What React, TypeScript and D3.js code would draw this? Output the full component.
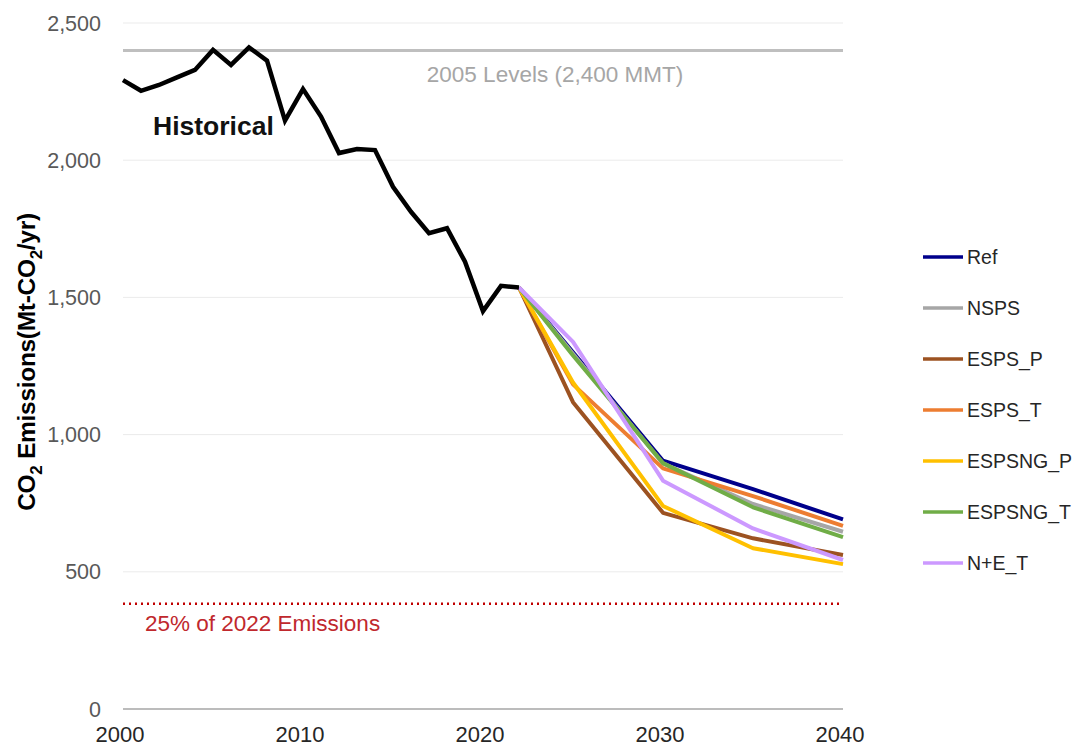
import React from "react";
import * as d3 from "d3";

// historical emissions (Mt-CO2/yr)
const histYears = [2000, 2001, 2002, 2003, 2004, 2005, 2006, 2007, 2008, 2009, 2010, 2011, 2012, 2013, 2014, 2015, 2016, 2017, 2018, 2019, 2020, 2021, 2022];
const historical = [2292, 2253, 2274, 2302, 2329, 2402, 2347, 2411, 2363, 2144, 2259, 2159, 2026, 2041, 2037, 1903, 1812, 1734, 1752, 1630, 1450, 1542, 1536];

// scenario projections
const projYears = [2022, 2025, 2030, 2035, 2040];
const scenarioNames = ["Ref", "NSPS", "ESPS_P", "ESPS_T", "ESPSNG_P", "ESPSNG_T", "N+E_T"];
const scenarioColors = ["#00008B", "#A6A6A6", "#9C5221", "#ED7D31", "#FFC000", "#70AD47", "#CC99FF"];
const ref = [1536, 1300, 905, 801, 691];
const nsps = [1536, 1295, 895, 747, 646];
const espsP = [1536, 1118, 715, 622, 561];
const espsT = [1536, 1183, 877, 776, 667];
const espsngP = [1536, 1190, 740, 586, 528];
const espsngT = [1536, 1288, 896, 735, 626];
const neT = [1536, 1338, 832, 658, 543];

const level2005 = 2400;
const target = 384; // 25% of 2022

const yTicks = [0, 500, 1000, 1500, 2000, 2500];
const xTicks = [2000, 2010, 2020, 2030, 2040];

const font = "'Liberation Sans', Arial, sans-serif";

export default function App() {
  const width = 1073;
  const height = 748;

  const x = d3.scaleLinear().domain([2000, 2040]).range([123, 843]);
  const y = d3.scaleLinear().domain([0, 2500]).range([709, 23]);

  const line = d3
    .line<[number, number]>()
    .x((d) => x(d[0]))
    .y((d) => y(d[1]));

  const scenarios = [ref, nsps, espsP, espsT, espsngP, espsngT, neT];

  return (
    <svg
      width={width}
      height={height}
      style={{ position: "absolute", left: 0, top: 0, background: "#fff" }}
      fontFamily={font}
    >
      {/* gridlines */}
      {yTicks.filter((t) => t > 0).map((t) => (
        <line key={"g" + t} x1={x(2000)} x2={x(2040)} y1={y(t)} y2={y(t)} stroke="#EBEBEB" strokeWidth={1} />
      ))}
      <line x1={x(2000)} x2={x(2040)} y1={y(0)} y2={y(0)} stroke="#A6A6A6" strokeWidth={1.5} />

      {/* y tick labels */}
      {yTicks.map((t) => (
        <text key={"y" + t} x={101} y={y(t) + 7.5} textAnchor="end" fontSize={21.5} fill="#595959">
          {d3.format(",")(t)}
        </text>
      ))}

      {/* x tick labels */}
      {xTicks.map((t) => (
        <text key={"x" + t} x={x(t) - 3} y={742} textAnchor="middle" fontSize={22} fill="#262626">
          {t}
        </text>
      ))}

      {/* y axis title */}
      <text
        transform={`translate(35, ${362}) rotate(-90)`}
        textAnchor="middle"
        fontSize={24.5}
        fontWeight="bold"
        fill="#000"
        letterSpacing={-0.3}
      >
        CO<tspan dy={7} fontSize={17}>2</tspan>
        <tspan dy={-7}> Emissions(Mt-CO</tspan>
        <tspan dy={7} fontSize={17}>2</tspan>
        <tspan dy={-7}>/yr)</tspan>
      </text>

      {/* 2005 level */}
      <line x1={x(2000)} x2={x(2040)} y1={y(level2005)} y2={y(level2005)} stroke="#BFBFBF" strokeWidth={3} />
      <text x={555} y={82} textAnchor="middle" fontSize={22.5} fill="#A6A6A6">
        2005 Levels (2,400 MMT)
      </text>

      {/* 25% target */}
      <line
        x1={x(2000)}
        x2={x(2040)}
        y1={y(target)}
        y2={y(target)}
        stroke="#C00000"
        strokeWidth={2.5}
        strokeDasharray="2 4"
      />
      <text x={145} y={631} fontSize={22.5} fill="#C0282D">
        25% of 2022 Emissions
      </text>

      {/* scenarios */}
      {scenarios.map((s, i) => (
        <path
          key={scenarioNames[i]}
          d={line(projYears.map((yr, j) => [yr, s[j]]))}
          fill="none"
          stroke={scenarioColors[i]}
          strokeWidth={4}
          strokeLinejoin="round"
        />
      ))}

      {/* historical */}
      <path
        d={line(histYears.map((yr, j) => [yr, historical[j]]))}
        fill="none"
        stroke="#000"
        strokeWidth={4.5}
        strokeLinejoin="miter"
      />
      <text x={153} y={135} fontSize={26.5} fontWeight="bold" fill="#111">
        Historical
      </text>

      {/* legend */}
      {scenarioNames.map((n, i) => (
        <g key={"l" + n} transform={`translate(923, ${257 + i * 51})`}>
          <line x1={0} x2={40} y1={0} y2={0} stroke={scenarioColors[i]} strokeWidth={3.5} />
          <text x={44} y={7} fontSize={19.5} fill="#262626">
            {n}
          </text>
        </g>
      ))}
    </svg>
  );
}
